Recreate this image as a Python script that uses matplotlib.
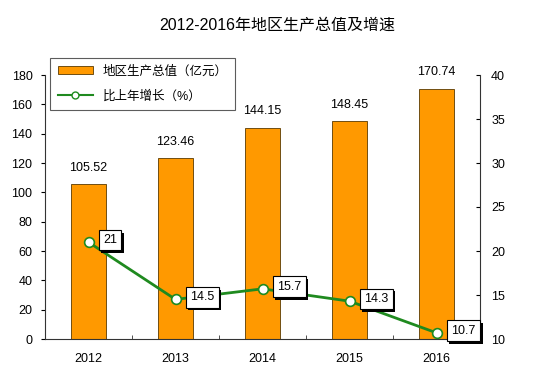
import matplotlib
matplotlib.use("Agg")
import matplotlib.pyplot as plt
from matplotlib.lines import Line2D
from matplotlib.patches import Patch
import matplotlib.patheffects as pe

plt.rcParams['font.family'] = ['Liberation Sans', 'Noto Sans CJK SC', 'DejaVu Sans']

years = ['2012', '2013', '2014', '2015', '2016']
gdp = [105.52, 123.46, 144.15, 148.45, 170.74]
growth = [21, 14.5, 15.7, 14.3, 10.7]
gdp_labels = ['105.52', '123.46', '144.15', '148.45', '170.74']
growth_labels = ['21', '14.5', '15.7', '14.3', '10.7']
title = '2012-2016年地区生产总值及增速'
legend_bar = '地区生产总值（亿元）'
legend_line = '比上年增长（%）'

fig = plt.figure(figsize=(5.55, 3.83), dpi=100)
ax = fig.add_axes([45/555, 1-339/383, (480-45)/555, (339-75)/383])
ax2 = ax.twinx()

x = list(range(len(years)))
ax.bar(x, gdp, width=0.4, color='#FF9900', edgecolor='#5a3a00', linewidth=0.6, zorder=2)
for xi, v, lab in zip(x, gdp, gdp_labels):
    ax.text(xi, v + 7, lab, ha='center', va='bottom', fontsize=9)

ax.set_xlim(-0.5, 4.5)
ax.set_ylim(0, 180)
ax.set_yticks(range(0, 181, 20))
ax.set_xticks(x)
ax.set_xticklabels(years, fontsize=9)
ax.tick_params(axis='x', length=0, pad=10)
ax.set_xticks([0.5, 1.5, 2.5, 3.5], minor=True)
ax.tick_params(axis='x', which='minor', direction='in', length=3, color='#333333')
ax.tick_params(axis='y', direction='out', length=3, labelsize=9, pad=6)
for s in ['top', 'right']:
    ax.spines[s].set_visible(False)
ax.spines['left'].set_color('#333333')
ax.spines['bottom'].set_color('#333333')

ax2.plot(x, growth, color='#1f8a1f', linewidth=2, marker='o', markersize=7,
         markerfacecolor='white', markeredgecolor='#1f8a1f', markeredgewidth=1.2, zorder=3)
ax2.set_ylim(10, 40)
ax2.set_yticks(range(10, 41, 5))
ax2.tick_params(axis='y', direction='in', length=3, labelsize=9, pad=8)
for s in ['top', 'left', 'bottom']:
    ax2.spines[s].set_visible(False)
ax2.spines['right'].set_color('#333333')

for xi, v, lab in zip(x, growth, growth_labels):
    t = ax2.annotate(lab, (xi, v), xytext=(10.5, 1.5), textcoords='offset points',
                     ha='left', va='center', fontsize=9, color='black', zorder=5,
                     bbox=dict(boxstyle='square,pad=0.35', fc='white', ec='black', lw=0.8))
    t.get_bbox_patch().set_path_effects([
        pe.SimplePatchShadow(offset=(2, -2), shadow_rgbFace='black', alpha=1.0),
        pe.Normal()])

handles = [Patch(facecolor='#FF9900', edgecolor='#5a3a00', linewidth=0.6),
           Line2D([0], [0], color='#1f8a1f', lw=1.5, marker='o', markersize=5,
                  markerfacecolor='white', markeredgecolor='#1f8a1f')]
leg = fig.legend(handles, [legend_bar, legend_line], loc='upper left',
                 bbox_to_anchor=(50/555, 1-58/383), fontsize=9, frameon=True,
                 fancybox=False, edgecolor='#333333', handlelength=2.8,
                 handleheight=0.6, borderpad=0.6, labelspacing=1.0,
                 borderaxespad=0)
leg.get_frame().set_linewidth(0.8)

fig.suptitle(title, y=1-25/383, va='center', fontsize=11.5)

fig.savefig('out.png', dpi=100, facecolor='white')
